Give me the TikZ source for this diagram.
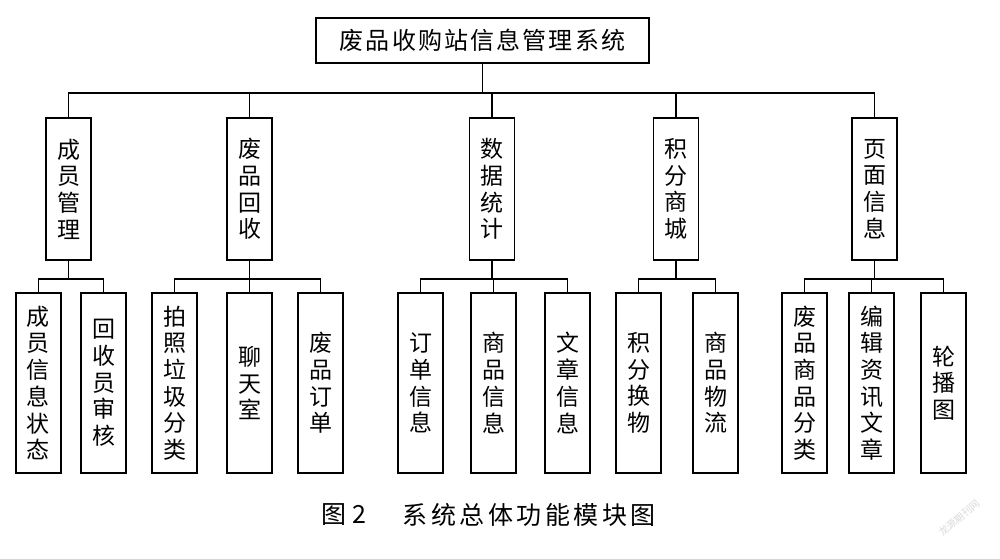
\documentclass[tikz,border=0pt]{standalone}
\usepackage{fontspec}
\newfontfamily\cjk{Noto Sans CJK SC}
\newfontfamily\cjkwide[LetterSpace=9]{Noto Sans CJK SC}
\newfontfamily\cjkcap[LetterSpace=14]{Noto Sans CJK SC}
\begin{document}
\begin{tikzpicture}%
[x=1pt, y=-1pt,%
mod/.style={draw, line width=1.5pt, inner sep=0pt, minimum width=45pt, align=center, font=\cjk\fontsize{23}{26.7}\selectfont},%
lvlone/.style={mod, minimum height=142pt},%
lvltwo/.style={mod, minimum height=180pt},%
link/.style={line width=1.5pt}]
\useasboundingbox (0,0) rectangle (1000,558);
% root
\node[draw, line width=1.5pt, minimum width=333pt, minimum height=45pt,%
  font=\cjkwide\fontsize{24}{26}\selectfont] (root) at (482.5,40.5) {废品收购站信息管理系统};
% first level
\node[lvlone] (member) at (68.5,189) {成\\员\\管\\理};
\node[lvlone] (recycle) at (249.5,189) {废\\品\\回\\收};
\node[lvlone] (stats) at (492,189) {数\\据\\统\\计};
\node[lvlone] (mall) at (676,189) {积\\分\\商\\城};
\node[lvlone] (page) at (874.5,189) {页\\面\\信\\息};
% second level
\node[lvltwo] (memberinfo) at (38.5,383) {成\\员\\信\\息\\状\\态};
\node[lvltwo] (audit) at (103.5,383) {回\\收\\员\\审\\核};
\node[lvltwo] (photo) at (174.5,383) {拍\\照\\垃\\圾\\分\\类};
\node[lvltwo] (chat) at (249.5,383) {聊\\天\\室};
\node[lvltwo] (order) at (320.5,383) {废\\品\\订\\单};
\node[lvltwo] (orderinfo) at (420.5,383) {订\\单\\信\\息};
\node[lvltwo] (goodsinfo) at (493.5,383) {商\\品\\信\\息};
\node[lvltwo] (article) at (567.5,383) {文\\章\\信\\息};
\node[lvltwo] (exchange) at (638.5,383) {积\\分\\换\\物};
\node[lvltwo] (logistics) at (715.5,383) {商\\品\\物\\流};
\node[lvltwo] (category) at (804.5,383) {废\\品\\商\\品\\分\\类};
\node[lvltwo] (news) at (871.5,383) {编\\辑\\资\\讯\\文\\章};
\node[lvltwo] (banner) at (943.5,383) {轮\\播\\图};
% connectors
\foreach \n in {member,recycle,stats,mall,page}
  \draw[link] (root.south) -- ++(0,29) -| (\n.north);
\foreach \n in {memberinfo,audit}
  \draw[link] (member.south) -- ++(0,18) -| (\n.north);
\foreach \n in {photo,chat,order}
  \draw[link] (recycle.south) -- ++(0,18) -| (\n.north);
\foreach \n in {orderinfo,goodsinfo,article}
  \draw[link] (stats.south) -- ++(0,18) -| (\n.north);
\foreach \n in {exchange,logistics}
  \draw[link] (mall.south) -- ++(0,18) -| (\n.north);
\foreach \n in {category,news,banner}
  \draw[link] (page.south) -- ++(0,18) -| (\n.north);
% caption
\node[font=\cjk\fontsize{25}{28}\selectfont, anchor=west] (capnum) at (318,515) {图\ 2};
\node[font=\cjkcap\fontsize{25}{28}\selectfont, anchor=west] (captext) at (399,515) {系统总体功能模块图};
\node[font=\cjk\fontsize{10}{12}\selectfont, text=gray!30, rotate=40, inner sep=0pt] (mark) at (959,518) {龙源期刊网};
\end{tikzpicture}
\end{document}
